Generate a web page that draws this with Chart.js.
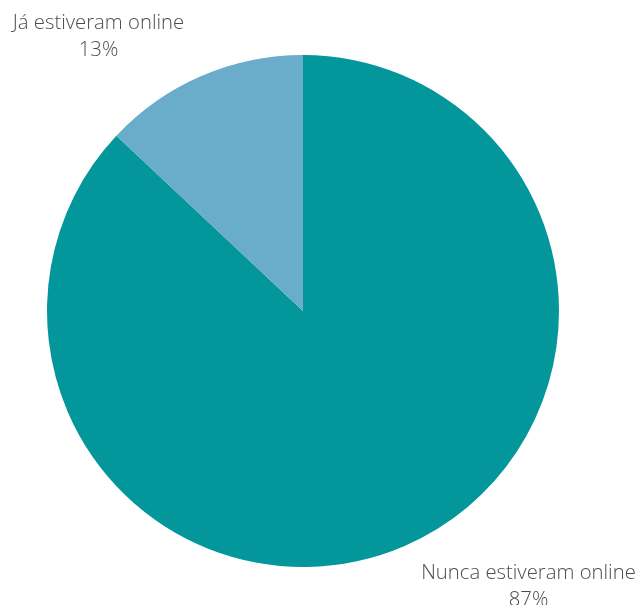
<!DOCTYPE html>
<html>
<head>
<meta charset="utf-8">
<script src="https://cdn.jsdelivr.net/npm/chart.js@4"></script>
<style>
  html, body { margin: 0; padding: 0; background: #fff; }
  #wrap { width: 637px; height: 605px; position: relative; }
</style>
</head>
<body>
<div id="wrap"><canvas id="pie"></canvas></div>
<script>
  // data
  const categories = ["Nunca estiveram online", "Já estiveram online"];
  const values = [87, 13];
  const sliceColors = ["#03979C", "#69ADCA"];

  // text labels drawn outside the pie (top-left / bottom-right corners)
  const outsideLabels = {
    id: "outsideLabels",
    afterDatasetsDraw(chart) {
      const { ctx, width, height } = chart;
      ctx.save();
      ctx.font = "300 20.3px 'Open Sans'";
      ctx.fillStyle = "#4d4d4d";
      ctx.textAlign = "center";
      ctx.textBaseline = "middle";
      const spots = [
        { x: width - 108.5, y: height - 32 },
        { x: 98.5, y: 23 },
      ];
      categories.forEach((name, i) => {
        const s = spots[i];
        ctx.fillText(name, s.x, s.y);
        ctx.fillText(values[i] + "%", s.x, s.y + 27);
      });
      ctx.restore();
    },
  };

  new Chart(document.getElementById("pie"), {
    type: "pie",
    data: {
      labels: categories,
      datasets: [
        {
          data: values,
          backgroundColor: sliceColors,
          borderWidth: 0,
        },
      ],
    },
    options: {
      responsive: true,
      maintainAspectRatio: false,
      animation: false,
      layout: { padding: { top: 55, bottom: 38, left: 47, right: 78 } },
      plugins: {
        legend: { display: false },
        tooltip: { enabled: false },
      },
    },
    plugins: [outsideLabels],
  });
</script>
</body>
</html>
